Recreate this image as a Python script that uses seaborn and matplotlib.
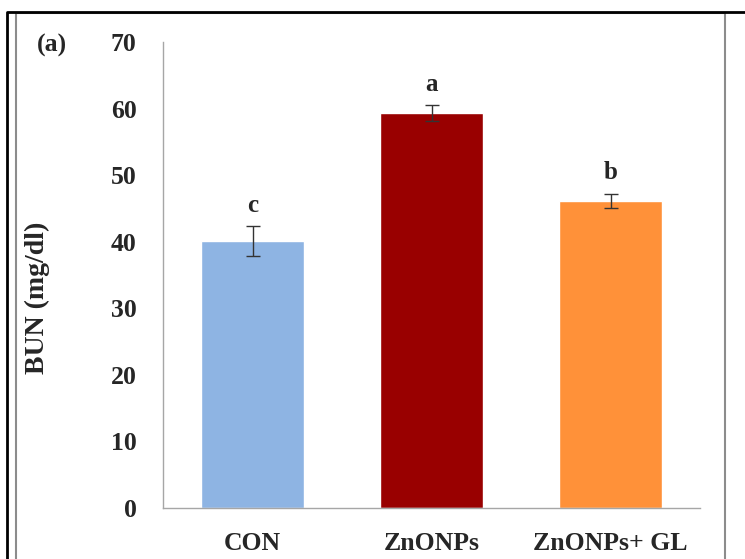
import matplotlib
matplotlib.use('Agg')
import matplotlib.pyplot as plt
from matplotlib.lines import Line2D
import seaborn as sns

groups = ['CON', 'ZnONPs', 'ZnONPs+ GL']
bun = [40.1, 59.3, 46.1]
err = [2.2, 1.2, 1.1]
letters = ['c', 'a', 'b']
colors = ['#8EB4E3', '#990000', '#FF9139']

sns.set_style('white')
plt.rcParams['font.family'] = ['Liberation Serif', 'DejaVu Serif']
plt.rcParams['font.weight'] = 'bold'

fig = plt.figure(figsize=(7.45, 5.59), dpi=100)
ax = fig.add_axes([0.2188, 0.0912, 0.7208, 0.8337])

sns.barplot(x=groups, y=bun, hue=groups, palette=colors, legend=False,
            width=0.57, saturation=1, ax=ax)
ax.errorbar(range(3), bun, yerr=err, fmt='none', ecolor='#333333',
            elinewidth=1, capsize=5, capthick=1)
for i, (v, e, l) in enumerate(zip(bun, err, letters)):
    ax.text(i, v + e + 1.4, l, ha='center', va='bottom', fontsize=18,
            fontweight='bold')

ax.set_xlim(-0.5, 2.5)
ax.set_ylim(0, 70)
ax.set_yticks(range(0, 71, 10))
ax.tick_params(axis='both', length=0, labelsize=18.5)
ax.tick_params(axis='y', pad=19)
ax.tick_params(axis='x', pad=17)
for lab in ax.get_xticklabels() + ax.get_yticklabels():
    lab.set_fontweight('bold')
ax.set_ylabel('BUN (mg/dl)', fontsize=20, fontweight='bold')
ax.yaxis.set_label_coords(-0.21, 0.45)
for s in ['top', 'right']:
    ax.spines[s].set_visible(False)
for s in ['left', 'bottom']:
    ax.spines[s].set_color('#A6A6A6')
    ax.spines[s].set_linewidth(1)

fig.text(37 / 745, 1 - 45 / 559, '(a)', fontsize=18.5, fontweight='bold',
         va='center', ha='left')

# frames around the panel
fig.add_artist(Line2D([16 / 745, 16 / 745, 725 / 745, 725 / 745],
                      [0, 1 - 13 / 559, 1 - 13 / 559, 0],
                      color='#8C8C8C', lw=1.5, transform=fig.transFigure))
fig.add_artist(Line2D([7 / 745, 7 / 745, 1],
                      [0, 1 - 12 / 559, 1 - 12 / 559],
                      color='black', lw=2, transform=fig.transFigure))

fig.savefig('out.png', dpi=100)
